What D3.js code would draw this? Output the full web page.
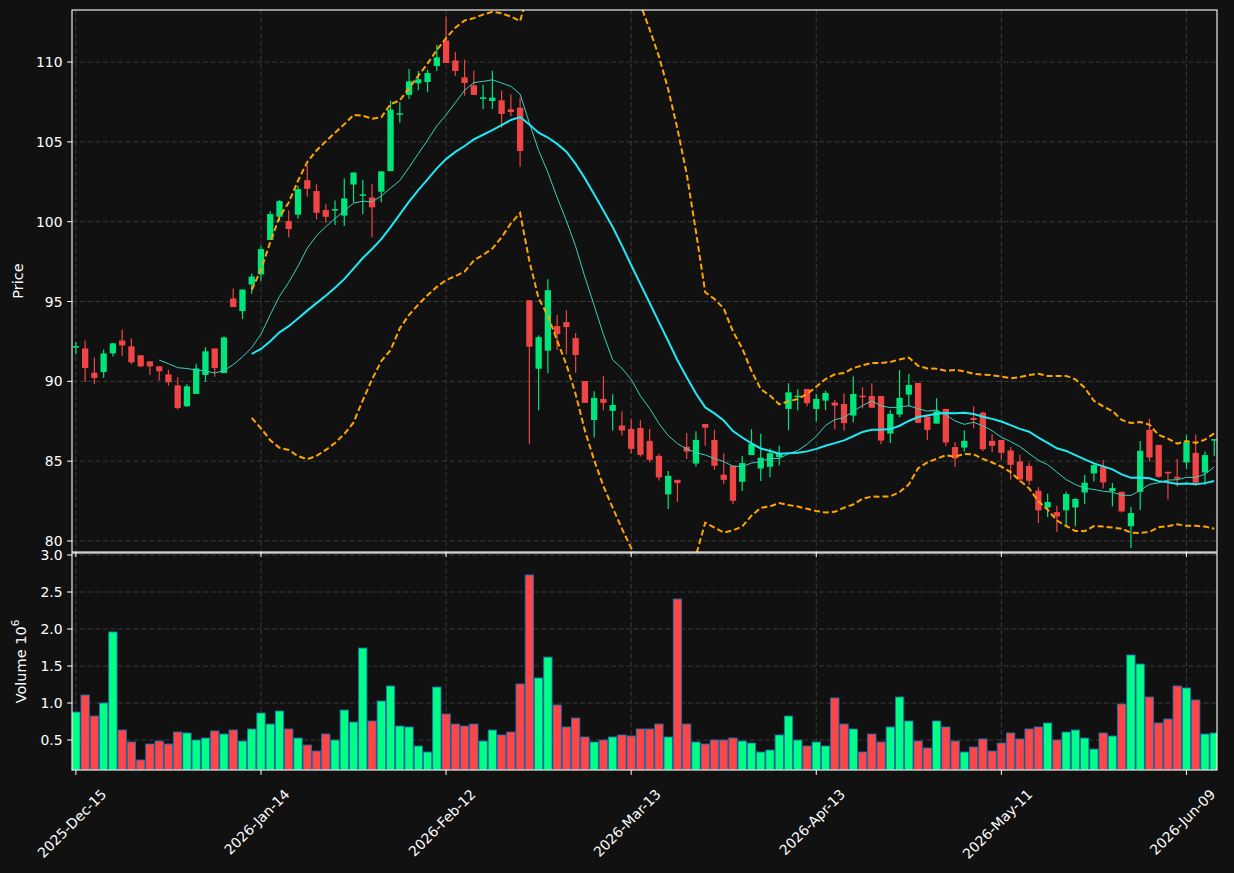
<!DOCTYPE html>
<html><head><meta charset="utf-8">
<script src="https://cdn.jsdelivr.net/npm/d3@7"></script>
<style>
html,body{margin:0;padding:0;background:#111111;}
svg{display:block;}
text{font-family:"DejaVu Sans",sans-serif;fill:#ffffff;}
</style></head>
<body><svg id="c" width="1234" height="873"></svg>
<script>
// ---- data ----
const opens = [92.15,92.06,90.54,90.58,91.75,92.56,92.19,91.63,91.25,90.94,90.44,89.75,88.44,89.21,90.4,92.06,90.52,95.19,94.4,96.06,
96.7,98.85,100.31,100.04,100.44,102.6,101.92,100.73,100.75,100.38,102.33,101.65,101.52,101.88,103.17,106.71,107.94,108.67,108.75,109.75,
111.35,110.1,109.04,108.54,107.69,107.56,107.6,107.04,107.14,95.08,90.79,91.92,93.46,93.71,92.71,90.02,87.58,88.9,88.15,87.23,
87.02,87.08,86.27,85.33,82.92,83.83,85.9,84.85,87.33,86.33,84.15,84.71,83.71,85.38,84.54,84.65,85.25,88.27,89.04,89.52,
88.27,88.79,88.67,88.58,87.85,89.1,89.08,89.08,86.73,87.92,89.17,89.9,87.79,87.35,88.27,85.88,85.85,87.71,88.04,86.27,
86.33,85.67,84.98,84.7,83.15,82.1,81.81,81.92,82.1,83.04,84.23,84.63,83.13,83.08,80.92,83.08,86.96,86.02,84.33,84.02,
84.92,85.52,84.29,86.29];
const highs = [92.46,92.56,91.5,92.0,92.42,93.25,92.69,91.63,91.25,90.94,90.73,90.25,89.81,91.1,92.13,92.06,92.81,95.81,95.75,96.75,
98.5,100.65,101.35,100.71,102.25,103.54,102.35,101.1,101.33,102.71,103.08,102.63,102.35,103.15,107.58,107.5,109.56,109.44,109.52,111.08,
112.85,110.63,110.15,109.46,108.6,109.46,108.21,107.96,107.77,95.08,92.88,96.4,94.15,94.46,93.02,90.02,89.38,90.33,89.19,88.13,
87.63,87.56,87.02,85.46,84.38,83.83,86.77,86.88,87.33,86.96,85.5,84.71,85.33,87.0,86.71,85.79,85.96,89.88,89.5,89.52,
89.21,89.42,88.83,89.25,90.31,89.63,89.88,89.08,88.19,90.71,90.46,89.9,87.79,88.94,88.27,86.19,86.94,88.44,88.1,86.69,
86.33,85.88,85.4,84.9,83.38,82.96,82.21,83.08,82.69,84.13,84.92,85.08,83.63,83.08,82.13,86.27,87.65,86.02,84.35,85.13,
86.63,86.65,85.6,86.38];
const lows = [91.69,89.96,89.83,90.23,91.56,91.58,91.08,90.88,90.4,90.06,89.71,88.23,88.4,89.21,89.96,90.29,90.52,94.65,93.9,95.48,
96.3,98.85,100.04,99.02,100.19,101.56,100.15,99.94,99.79,99.73,101.19,100.48,99.02,101.21,103.17,106.19,107.69,108.23,108.13,109.44,
109.94,109.13,107.9,107.94,107.06,107.06,105.88,106.6,103.44,86.06,88.19,90.5,91.96,91.69,90.54,88.65,86.48,88.19,86.92,86.6,
85.46,85.29,84.92,83.79,82.0,82.44,85.13,84.67,85.96,84.46,83.56,82.31,83.13,85.38,83.75,84.0,84.73,86.94,88.17,88.44,
87.48,88.19,86.98,86.9,87.44,88.31,88.35,86.06,86.13,87.75,88.42,87.38,86.33,87.35,85.94,84.63,85.6,87.06,85.63,85.56,
85.1,83.83,83.7,83.5,81.13,81.5,80.56,80.85,80.92,82.31,83.73,83.29,82.17,81.79,79.56,81.94,84.98,83.96,82.6,83.42,
84.5,83.46,83.52,85.33];
const closes = [92.2,90.83,90.21,91.75,92.38,92.25,91.19,90.94,90.94,90.63,89.94,88.33,89.69,90.81,91.88,90.83,92.75,94.65,95.75,96.56,
98.28,100.48,101.29,99.54,102.04,102.06,100.56,100.31,100.79,101.46,103.08,101.71,100.9,103.15,107.02,106.79,108.79,108.92,109.31,110.29,
109.94,109.44,108.69,107.94,107.79,107.77,106.75,106.87,104.43,92.17,92.77,95.71,92.96,93.4,91.65,88.65,88.96,88.65,88.52,86.92,
85.77,85.4,85.08,83.98,84.08,83.63,85.6,86.33,87.1,84.71,83.83,82.52,84.88,86.08,85.21,85.5,85.5,89.31,89.1,88.63,
88.9,89.27,88.48,87.38,89.21,89.04,88.35,86.29,87.96,88.96,89.77,87.4,86.96,88.13,86.17,85.17,86.27,87.58,85.75,85.96,
85.52,84.77,83.85,83.77,81.92,82.44,81.54,82.94,82.63,83.65,84.75,83.67,83.31,81.85,81.75,85.65,85.23,84.02,84.25,83.9,
86.19,83.65,85.38,86.38];
const volumes = [0.878,1.108,0.824,1.0,1.96,0.635,0.473,0.23,0.446,0.486,0.446,0.608,0.595,0.5,0.527,0.622,0.581,0.635,0.486,0.649,
0.865,0.716,0.892,0.649,0.527,0.432,0.351,0.581,0.5,0.905,0.743,1.743,0.757,1.027,1.23,0.689,0.676,0.419,0.338,1.216,
0.851,0.716,0.689,0.716,0.486,0.635,0.568,0.608,1.257,2.73,1.338,1.62,0.973,0.676,0.797,0.541,0.473,0.5,0.541,0.568,
0.554,0.649,0.649,0.716,0.541,2.405,0.716,0.473,0.446,0.5,0.5,0.527,0.486,0.459,0.338,0.365,0.568,0.824,0.5,0.419,
0.473,0.419,1.068,0.716,0.649,0.338,0.581,0.473,0.676,1.081,0.757,0.486,0.392,0.757,0.676,0.486,0.338,0.405,0.514,0.351,
0.459,0.595,0.514,0.649,0.676,0.73,0.5,0.608,0.635,0.527,0.378,0.595,0.554,0.986,1.649,1.527,1.081,0.73,0.784,1.23,
1.203,1.041,0.581,0.595];
const tickIndex = [0,20,40,60,80,100,120];
const tickLabels = ["2025-Dec-15","2026-Jan-14","2026-Feb-12","2026-Mar-13","2026-Apr-13","2026-May-11","2026-Jun-09"];
const priceTicks = [80,85,90,95,100,105,110];
const volumeTicks = [0.5,1.0,1.5,2.0,2.5,3.0];
const maShort = 10, maLong = 20, bbK = 2;

// ---- layout ----
const svg = d3.select("#c");
const L = 72, R = 1217, pTop = 10, pBot = 552, vTop = 553, vBot = 770;
const UP = "#00e47c", DOWN = "#ef4545", VUP = "#00ff85", VDOWN = "#ff4646";
const n = closes.length;
svg.append("rect").attr("width",1234).attr("height",873).attr("fill","#111111");

const x = d3.scaleLinear().domain([-0.42, 123.3]).range([L, R]);
const yP = d3.scaleLinear().domain([79.31, 113.26]).range([pBot, pTop]);
const yV = d3.scaleLinear().domain([0.095, 3.027]).range([vBot, vTop]);
const step = x(1) - x(0);

const defs = svg.append("defs");
defs.append("clipPath").attr("id","cp").append("rect").attr("x",L).attr("y",pTop).attr("width",R-L).attr("height",pBot-pTop);
defs.append("clipPath").attr("id","cv").append("rect").attr("x",L).attr("y",vTop).attr("width",R-L).attr("height",vBot-vTop);

const gridColor = "#404040";
function grids(g, y0, y1, yScale, ticks){
  g.selectAll("line.vg").data(tickIndex).join("line")
    .attr("x1",d=>x(d)).attr("x2",d=>x(d)).attr("y1",y0).attr("y2",y1)
    .attr("stroke",gridColor).attr("stroke-width",0.9).attr("stroke-dasharray","5,2.7");
  g.selectAll("line.hg").data(ticks).join("line").attr("class","hg")
    .attr("x1",L).attr("x2",R).attr("y1",d=>yScale(d)).attr("y2",d=>yScale(d))
    .attr("stroke",gridColor).attr("stroke-width",0.9).attr("stroke-dasharray","5,2.7");
}
grids(svg.append("g"), pTop, pBot, yP, priceTicks);
grids(svg.append("g"), vTop, vBot, yV, volumeTicks);

// indicators (rolling mean / sample std of closes)
function sma(arr, w){ return arr.map((_,i)=> i<w-1 ? null : d3.mean(arr.slice(i-w+1,i+1))); }
function sstd(arr, w){ return arr.map((_,i)=> i<w-1 ? null : d3.deviation(arr.slice(i-w+1,i+1))); }
const ma10 = sma(closes, maShort), ma20 = sma(closes, maLong), sd20 = sstd(closes, maLong);
const upper = ma20.map((m,i)=> m===null?null:m+bbK*sd20[i]);
const lower = ma20.map((m,i)=> m===null?null:m-bbK*sd20[i]);

const pg = svg.append("g").attr("clip-path","url(#cp)");
const line = d3.line().defined(d=>d[1]!==null).x(d=>x(d[0])).y(d=>yP(d[1]));
const toPts = a => a.map((v,i)=>[i,v]);

// candles
const cg = pg.append("g");
const idx = d3.range(n);
cg.selectAll("line.w").data(idx).join("line")
  .attr("x1",i=>x(i)).attr("x2",i=>x(i)).attr("y1",i=>yP(highs[i])).attr("y2",i=>yP(lows[i]))
  .attr("stroke",i=>closes[i]>=opens[i]?UP:DOWN).attr("stroke-width",1.2);
const bw = step*0.68;
cg.selectAll("rect.b").data(idx).join("rect")
  .attr("x",i=>x(i)-bw/2).attr("width",bw)
  .attr("y",i=>Math.min(yP(opens[i]),yP(closes[i])))
  .attr("height",i=>Math.max(1.5, Math.abs(yP(opens[i])-yP(closes[i]))))
  .attr("fill",i=>closes[i]>=opens[i]?UP:DOWN);

const bbStyle = p => p.attr("fill","none").attr("stroke","#ffa500").attr("stroke-width",2).attr("stroke-dasharray","6,3");
pg.append("path").attr("d",line(toPts(upper))).call(bbStyle);
pg.append("path").attr("d",line(toPts(lower))).call(bbStyle);
pg.append("path").attr("d",line(toPts(ma10))).attr("fill","none").attr("stroke","#3ccfbf").attr("stroke-width",1);
pg.append("path").attr("d",line(toPts(ma20))).attr("fill","none").attr("stroke","#1ee9f4").attr("stroke-width",2);

// volume
const vg = svg.append("g").attr("clip-path","url(#cv)");
const vw = step*0.9;
vg.selectAll("rect").data(idx).join("rect")
  .attr("x",i=>x(i)-vw/2).attr("width",vw)
  .attr("y",i=>yV(volumes[i])).attr("height",i=>vBot-yV(volumes[i]))
  .attr("fill",i=>closes[i]>=opens[i]?VUP:VDOWN)
  .attr("stroke","#1f6fb4").attr("stroke-width",0.9);

// frames
svg.append("rect").attr("x",L).attr("y",pTop).attr("width",R-L).attr("height",pBot-pTop).attr("fill","none").attr("stroke","#ffffff").attr("stroke-width",1.1);
svg.append("rect").attr("x",L).attr("y",vTop).attr("width",R-L).attr("height",vBot-vTop).attr("fill","none").attr("stroke","#ffffff").attr("stroke-width",1.1);

// axes
const fs = 13.9;
const ay = svg.append("g");
priceTicks.forEach(t=>{
  ay.append("line").attr("x1",L-4.9).attr("x2",L).attr("y1",yP(t)).attr("y2",yP(t)).attr("stroke","#fff");
  ay.append("text").attr("x",L-9.5).attr("y",yP(t)).attr("dy","0.36em").attr("text-anchor","end").attr("font-size",fs).text(t);
});
volumeTicks.forEach(t=>{
  ay.append("line").attr("x1",L-4.9).attr("x2",L).attr("y1",yV(t)).attr("y2",yV(t)).attr("stroke","#fff");
  ay.append("text").attr("x",L-9.5).attr("y",yV(t)).attr("dy","0.36em").attr("text-anchor","end").attr("font-size",fs).text(t.toFixed(1));
});
tickIndex.forEach((t,k)=>{
  ay.append("line").attr("x1",x(t)).attr("x2",x(t)).attr("y1",pBot).attr("y2",pBot+4.9).attr("stroke","#fff");
  ay.append("line").attr("x1",x(t)).attr("x2",x(t)).attr("y1",vBot).attr("y2",vBot+4.9).attr("stroke","#fff");
  const tx = ay.append("text").attr("text-anchor","middle").attr("font-size",fs).attr("dy","0.35em").text(tickLabels[k]);
  const len = tx.node().getComputedTextLength();
  const h = fs*1.16;
  const half = (len + h)*Math.SQRT1_2/2;
  tx.attr("transform",`translate(${x(t)-4},${vBot + 16 + half}) rotate(-45)`);
});
svg.append("text").attr("transform",`translate(23,${(pTop+pBot)/2}) rotate(-90)`).attr("text-anchor","middle").attr("font-size",14.5).text("Price");
const vl = svg.append("text").attr("transform",`translate(26,${(vTop+vBot)/2}) rotate(-90)`).attr("text-anchor","middle").attr("font-size",14.5);
vl.append("tspan").text("Volume  10");
vl.append("tspan").attr("dy",-7).attr("font-size",10.5).text("6");
</script></body></html>
